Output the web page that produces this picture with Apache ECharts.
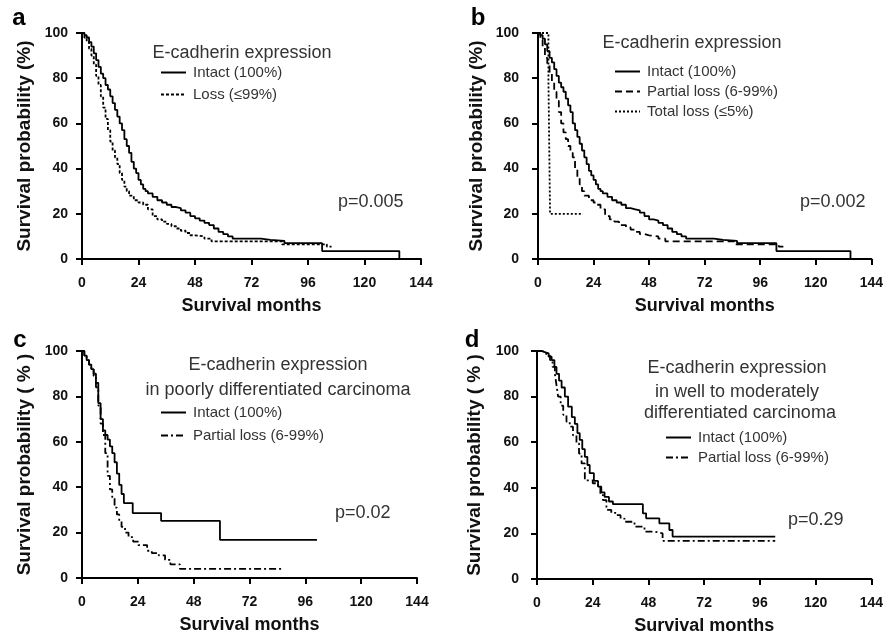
<!DOCTYPE html>
<html>
<head>
<meta charset="utf-8">
<script src="https://cdn.jsdelivr.net/npm/echarts@6/dist/echarts.min.js"></script>
<style>html,body{margin:0;padding:0;background:#fff}#c{width:886px;height:637px}</style>
</head>
<body>
<div id="c"></div>
<script>
// ---- axis ticks ----
const monthTicks = [0, 24, 48, 72, 96, 120, 144];
const survTicks = [0, 20, 40, 60, 80, 100];

// ---- panel a ----
const aIntact = [[0,100],[1,99],[2,98],[3,96],[4,94],[5,91],[6,88],[7,85],[8,82],[9,80],[10,77],[11,75],[12,72],[13,69],[14,66],[15,63],[16,60],[17,57],[18,53],[19,50],[20,47],[21,43],[22,40],[23,38],[24,35],[25,33],[26,31],[27,30],[28,29],[30,27.5],[32,26],[34,25],[36,24],[38,23],[40,22.5],[42,21.5],[44,20.5],[46,19],[48,18],[50,17],[52,16],[54,15],[56,13.5],[58,12],[60,11],[62,10],[64,9],[76,8.5],[80,8],[86,7],[102,3.5],[134.8,0]];
const aLoss = [[0,100],[1,98],[2,96],[3,93],[4,90],[5,86],[6,81],[7,77],[8,72],[9,67],[10,62],[11,57],[12,52],[13,48],[14,45],[15,42],[16,38],[17,35],[18,32],[19,30],[20,28],[22,26],[24,25],[26,24],[28,22],[30,19],[32,17.5],[34,16.5],[36,15.5],[38,14.5],[40,13.5],[42,12.5],[44,11.5],[46,10.5],[48,10],[52,9],[55,7.8],[85,6.5],[104,5.5],[106,5.5]];

// ---- panel b ----
const bIntact = [[0,100],[1,99],[2,97.5],[3,95],[4,92],[5,89],[6,87],[7,84],[8,81],[9,78],[10,76],[11,74],[12,71],[13,68],[14,65],[15,60],[16,57],[17,54],[18,51],[19,48],[20,45],[21,42],[22,39],[23,37],[24,35],[25,33],[26,31],[27,30],[28,29],[30,27.5],[32,26],[34,25],[36,24],[38,22.5],[40,22],[42,21.5],[44,20.5],[46,19],[48,17.5],[50,17],[52,16],[54,15],[56,13.5],[58,12],[60,11],[62,10],[64,9],[76,8.5],[80,8],[86,7],[103,3.5],[135,0]];
const bPartial = [[0,100],[1,97],[2,94],[3,89],[4,86],[5,82],[6,78],[7,74],[8,70],[9,65],[10,60],[11,56],[12,53],[13,50],[14,47],[15,45],[16,40],[17,36],[18,33],[19,30],[20,28],[22,26],[24,25],[25,24],[27,22],[29,19],[31,17.5],[33,16.5],[35,15],[38,14],[40,13],[42,12],[44,11],[46,10.5],[48,10],[52,9],[55,7.8],[85,6.5],[104,5.5],[106,5.5]];
const bTotal = [[0,100],[4.5,80],[5.2,20],[19.4,20]];

// ---- panel c ----
const cIntact = [[0,100],[1,98],[2,96],[3,94],[4,92],[5,90],[6,86],[7,77],[8,70],[9,65],[10,63],[11,61],[12,58],[13,55],[14,51],[15,46],[16,41],[17,37],[18,33],[21.8,28.6],[34,25.2],[59.3,16.8],[101,16.8]];
const cPartial = [[0,100],[1,98],[2,96],[3,94],[4,92],[5,89],[6,84],[7,76],[8,68],[9,63],[10,55],[11,45],[12,39],[13,35],[14,31],[15,28],[16,25],[17,22.5],[18.5,20],[20,18],[22,16],[24.2,14.5],[28,12],[30,11],[33,10],[35.7,8],[38,6],[42.1,4],[86.7,4]];

// ---- panel d ----
const dIntact = [[0,100],[2,99.5],[3.4,99],[5,97.5],[6.3,96],[7.5,93],[8.4,90],[9.5,87],[10.6,84],[12,80],[13.4,75.6],[15,71],[16.3,68],[17.4,64],[18.4,61],[19.5,57],[20.6,53.6],[21.7,50],[22.7,46.4],[24.5,43],[26.3,40.5],[27.7,38],[29.1,36],[31,34],[32.7,32.8],[45.6,28.8],[47,26.6],[52.7,24.4],[57,21.5],[58.4,18.6],[102.6,18.6]];
const dPartial = [[0,100],[2,99.5],[4,98],[5.6,96],[6.7,93],[7.7,90],[8.4,85],[9.1,80],[10.2,76],[11.3,72],[12.7,69],[14.1,66.8],[15.5,63],[17,59.5],[18.1,55],[19.2,50.7],[20.6,43.3],[24,42],[26.3,40.5],[27.3,37],[28.4,34.6],[29.9,30.3],[32,29],[34.2,28],[36,26.5],[37.7,25.1],[42,23],[46.3,20.8],[50.6,20],[54.1,16.7],[102.6,16.7]];

// ---- labels ----
const xName = 'Survival months';
const yNames = ['Survival probability (%)', 'Survival probability (%)', 'Survival probability ( % )', 'Survival probability ( % )'];
const heading = 'E-cadherin expression';
const pValues = ['p=0.005', 'p=0.002', 'p=0.02', 'p=0.29'];
const panelLetters = ['a', 'b', 'c', 'd'];

const FONT = '"Liberation Sans", Arial, Helvetica, sans-serif';
const TXT = '#333';

const grids = [
  {left: 82, top: 33, width: 339, height: 226},
  {left: 538, top: 33, width: 335, height: 226},
  {left: 82, top: 351, width: 335, height: 227},
  {left: 537, top: 351, width: 336, height: 228}
];
const yLabelMargin = [14, 19, 14, 18];
const yNameGap = [48, 52, 48, 53];

const xAxes = grids.map((g, i) => ({
  type: 'value', gridIndex: i, min: monthTicks[0], max: monthTicks[monthTicks.length - 1], interval: monthTicks[1] - monthTicks[0],
  name: xName, nameLocation: 'middle', nameGap: 38,
  nameTextStyle: {fontFamily: FONT, fontWeight: 'bold', fontSize: 18, color: '#111'},
  axisLine: {show: true, lineStyle: {color: '#000', width: 2}},
  axisTick: {show: true, length: 6, lineStyle: {color: '#000', width: 2}},
  axisLabel: {fontFamily: FONT, fontWeight: 'bold', fontSize: 14, color: '#111', margin: 17, showMaxLabel: true, showMinLabel: true},
  splitLine: {show: false}
}));
const yAxes = grids.map((g, i) => ({
  type: 'value', gridIndex: i, min: survTicks[0], max: survTicks[survTicks.length - 1], interval: survTicks[1] - survTicks[0],
  name: yNames[i], nameLocation: 'middle', nameGap: yNameGap[i],
  nameTextStyle: {fontFamily: FONT, fontWeight: 'bold', fontSize: 19, color: '#111'},
  axisLine: {show: true, lineStyle: {color: '#000', width: 2}},
  axisTick: {show: true, length: 6, lineStyle: {color: '#000', width: 2}},
  axisLabel: {fontFamily: FONT, fontWeight: 'bold', fontSize: 14, color: '#111', margin: yLabelMargin[i]},
  splitLine: {show: false}
}));

function km(name, data, idx, type) {
  return {
    name: name, type: 'line', step: 'end', data: data, xAxisIndex: idx, yAxisIndex: idx,
    symbol: 'none', showSymbol: false, animation: false, silent: true,
    lineStyle: {color: '#000', width: 1.8, type: type}, itemStyle: {color: '#000'}
  };
}
const DOT = [3, 2];
const DASH = [7, 4];
const DOT2 = [2, 2];
const DASHDOT = [7, 3, 2, 3];

const series = [
  km('a|Intact (100%)', aIntact, 0, 'solid'),
  km('a|Loss (≤99%)', aLoss, 0, DOT),
  km('b|Intact (100%)', bIntact, 1, 'solid'),
  km('b|Partial loss (6-99%)', bPartial, 1, DASH),
  km('b|Total loss (≤5%)', bTotal, 1, DOT2),
  km('c|Intact (100%)', cIntact, 2, 'solid'),
  km('c|Partial loss (6-99%)', cPartial, 2, DASHDOT),
  km('d|Intact (100%)', dIntact, 3, 'solid'),
  km('d|Partial loss (6-99%)', dPartial, 3, DASHDOT)
];

function legend(prefix, left, top, gap) {
  return {
    orient: 'vertical', left: left, top: top, itemWidth: 25, itemHeight: 14, itemGap: gap,
    selectedMode: false,
    itemStyle: {opacity: 0},
    data: series.filter(s => s.name.startsWith(prefix + '|')).map(s => s.name),
    formatter: n => n.split('|')[1],
    textStyle: {fontFamily: FONT, fontSize: 15, color: TXT, padding: [0, 0, 0, 2]}
  };
}

function txt(x, y, text, size, opts) {
  return {type: 'text', x: x, y: y, style: Object.assign({text: text, font: size + 'px ' + FONT, fill: TXT, textAlign: 'center', textVerticalAlign: 'middle'}, opts || {})};
}

const graphics = [
  txt(242, 53, heading, 18),
  txt(692, 43, heading, 18),
  txt(278, 365, heading, 18),
  txt(278, 390, 'in poorly differentiated carcinoma', 18),
  txt(737, 368, heading, 18),
  txt(737, 392, 'in well to moderately', 18),
  txt(740, 413, 'differentiated carcinoma', 18),
  txt(338, 202, pValues[0], 18, {textAlign: 'left'}),
  txt(800, 202, pValues[1], 18, {textAlign: 'left'}),
  txt(335, 513, pValues[2], 18, {textAlign: 'left'}),
  txt(788, 520, pValues[3], 18, {textAlign: 'left'}),
  txt(19, 18, panelLetters[0], 24, {fill: '#000', font: 'bold 24px ' + FONT}),
  txt(478, 18, panelLetters[1], 24, {fill: '#000', font: 'bold 24px ' + FONT}),
  txt(20, 340, panelLetters[2], 24, {fill: '#000', font: 'bold 24px ' + FONT}),
  txt(472, 340, panelLetters[3], 24, {fill: '#000', font: 'bold 24px ' + FONT})
];

const chart = echarts.init(document.getElementById('c'), null, {renderer: 'canvas'});
chart.setOption({
  backgroundColor: '#fff',
  animation: false,
  grid: grids,
  xAxis: xAxes,
  yAxis: yAxes,
  legend: [
    legend('a', 155, 60, 7),
    legend('b', 609, 59, 5),
    legend('c', 155, 400, 8),
    legend('d', 660, 425, 5)
  ],
  graphic: graphics,
  series: series
});
</script>
</body>
</html>
